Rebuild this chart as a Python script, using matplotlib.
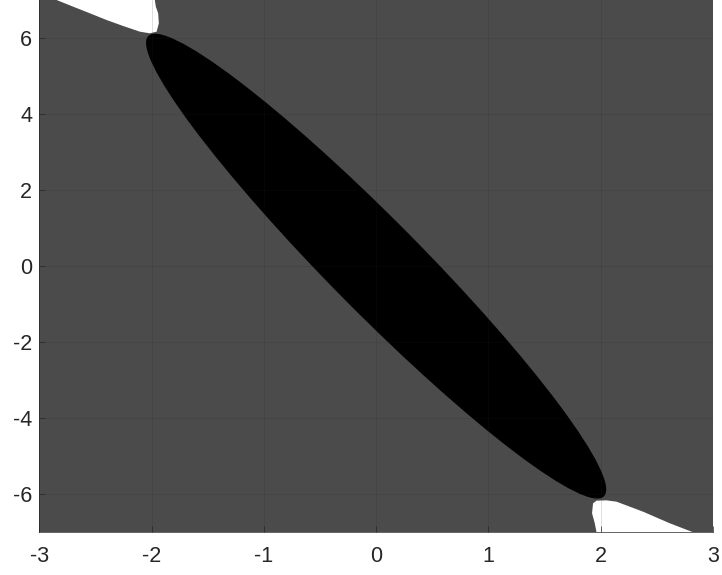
import numpy as np
import matplotlib
matplotlib.use("Agg")
import matplotlib.pyplot as plt
from matplotlib.patches import Circle, Polygon
from matplotlib.transforms import Affine2D

plt.rcParams["font.family"] = ["Liberation Sans", "DejaVu Sans"]
plt.rcParams["axes.unicode_minus"] = False

# Axis ranges and ticks
X_LIM = (-3, 3)
Y_LIM = (-7, 7)
X_TICKS = [-3, -2, -1, 0, 1, 2, 3]
Y_TICKS = [-6, -4, -2, 0, 2, 4, 6]

# Inner (black) region: ellipse given by two conjugate semi-diameters
ELLIPSE_CENTER = (0.0, 0.0)
ELLIPSE_TIP = (2.03, -6.05)      # semi-diameter towards the lower-right tip
ELLIPSE_SIDE = (0.28, 0.88)      # conjugate semi-diameter (band half-width)

# Outer (white) regions, boundary traced corner to corner
WHITE_TL_X = [-2.846, -2.698, -2.549, -2.401, -2.253, -2.104, -2.016,
              -1.955, -1.935, -1.941, -1.962, -1.971, -1.971, -2.846]
WHITE_TL_Y = [7.0, 6.824, 6.650, 6.474, 6.316, 6.167, 6.124,
              6.167, 6.387, 6.650, 6.824, 7.0, 7.2, 7.2]

WHITE_BR_X = [1.963, 1.947, 1.923, 1.932, 1.963, 2.050, 2.141,
              2.378, 2.615, 2.823, 2.823, 1.963]
WHITE_BR_Y = [-7.0, -6.76, -6.50, -6.237, -6.169, -6.160, -6.195,
              -6.459, -6.763, -7.0, -7.2, -7.2]

BG_COLOR = "#4b4b4b"
AX_COLOR = "#262626"

fig = plt.figure(figsize=(7.22, 5.75), dpi=100)
ax = fig.add_axes([0.0544, 0.0743, 0.9331, 0.9257])
ax.set_facecolor(BG_COLOR)

# unit circle mapped onto the ellipse through its conjugate diameters
ell_tf = Affine2D.from_values(ELLIPSE_TIP[0], ELLIPSE_TIP[1],
                              ELLIPSE_SIDE[0], ELLIPSE_SIDE[1],
                              ELLIPSE_CENTER[0], ELLIPSE_CENTER[1])
ax.add_patch(Circle((0, 0), 1.0, facecolor="black", edgecolor="none",
                    transform=ell_tf + ax.transData))

for xs, ys in [(WHITE_TL_X, WHITE_TL_Y), (WHITE_BR_X, WHITE_BR_Y)]:
    ax.add_patch(Polygon(np.column_stack([xs, ys]), closed=True,
                         facecolor="white", edgecolor="none"))

ax.set_xlim(*X_LIM)
ax.set_ylim(*Y_LIM)
ax.set_xticks(X_TICKS)
ax.set_yticks(Y_TICKS)

ax.set_axisbelow(False)
ax.grid(True, color=AX_COLOR, alpha=0.15, linewidth=0.7)

for side in ["top", "right"]:
    ax.spines[side].set_visible(False)
for side in ["left", "bottom"]:
    ax.spines[side].set_color(AX_COLOR)
    ax.spines[side].set_linewidth(0.5)

ax.tick_params(direction="in", length=4.5, width=0.5, color=AX_COLOR,
               labelcolor=AX_COLOR, labelsize=15.5)
ax.tick_params(axis="x", pad=10)
ax.tick_params(axis="y", pad=5)

fig.savefig("out.png", dpi=100, facecolor="white")
